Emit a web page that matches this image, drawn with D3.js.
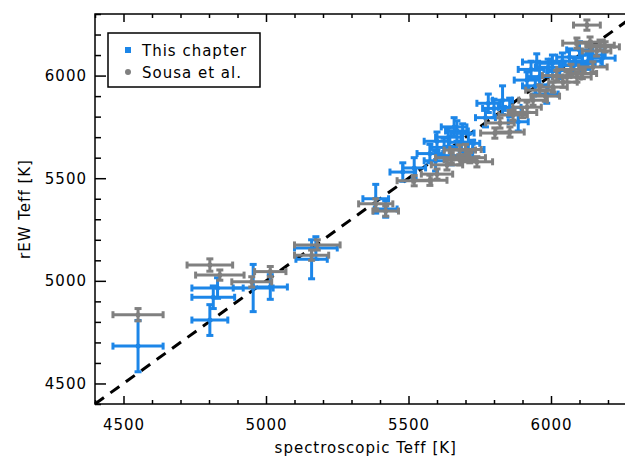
<!DOCTYPE html>
<html>
<head>
<meta charset="utf-8">
<script src="https://cdn.jsdelivr.net/npm/d3@7"></script>
<style>
  body { margin: 0; background: #fff; }
  svg { display: block; }
  .tick text { font-family: "DejaVu Sans", sans-serif; font-size: 15px; letter-spacing: 1px; fill: #000; }
</style>
</head>
<body>
<div id="chart"></div>
<script>
// rEW Teff vs spectroscopic Teff

// this chapter: spectroscopic Teff, rEW Teff, errors
const chapterSpec = [4551, 4803, 4815, 4830, 4955, 5015, 5160, 5175, 5385, 5420,
    5480, 5520, 5575, 5595, 5625, 5640, 5670, 5685, 5710, 5725,
    5600, 5660, 5690, 5650,
    5770, 5780, 5830, 5855, 5885, 5800,
    5916, 5950, 5960, 5985, 6005, 6030, 6065, 6100, 6110, 6145, 6180,
    5930, 5990, 6040, 6080, 6130, 5945];
const chapterRew = [4682, 4809, 4920, 4965, 4965, 4970, 5105, 5160, 5400, 5350,
    5530, 5550, 5620, 5585, 5650, 5700, 5730, 5675, 5670, 5640,
    5680, 5750, 5720, 5610,
    5795, 5865, 5880, 5845, 5775, 5840,
    5978, 6066, 5995, 5910, 6060, 6025, 6090, 6125, 6060, 6100, 6085,
    6030, 6040, 6070, 6050, 6070, 5950];
const chapterSpecErr = [88, 63, 75, 90, 70, 60, 55, 75, 45, 40,
    45, 40, 45, 40, 45, 45, 40, 45, 40, 40,
    45, 45, 40, 45,
    35, 40, 35, 40, 35, 40,
    45, 50, 45, 40, 45, 45, 45, 45, 45, 45, 45,
    45, 45, 45, 45, 45, 45];
const chapterRewErr = [125, 75, 55, 50, 115, 60, 95, 55, 70, 40,
    45, 50, 45, 50, 45, 45, 50, 45, 45, 45,
    45, 45, 45, 45,
    45, 45, 70, 45, 45, 45,
    40, 40, 40, 45, 40, 40, 40, 40, 40, 40, 40,
    40, 40, 40, 40, 40, 40];

// Sousa et al.
const sousaSpec = [4551, 4803, 4838, 4950, 5015, 5160, 5180, 5385, 5420, 5520,
    5575, 5635, 5680, 5715, 5680, 5600, 5650, 5700, 5740,
    5803, 5821, 5856, 5867, 5900,
    5916, 5937, 5961, 6007, 6042, 6056, 6091, 6147, 6091, 6137, 6172, 6126,
    5980, 6020, 6070, 6110, 6160, 6190];
const sousaRew = [4835, 5077, 5028, 4995, 5045, 5125, 5175, 5375, 5340, 5488,
    5490, 5565, 5590, 5600, 5637, 5520, 5600, 5640, 5580,
    5720, 5769, 5725, 5808, 5820,
    5846, 5880, 5929, 5944, 5968, 5993, 5993, 6042, 6158, 6163, 6148, 6246,
    5900, 6000, 6030, 6010, 6120, 6140];
const sousaSpecErr = [88, 80, 85, 70, 55, 60, 80, 60, 45, 60,
    60, 55, 55, 55, 55, 55, 55, 55, 55,
    50, 50, 50, 50, 50,
    50, 50, 50, 50, 50, 50, 50, 50, 50, 50, 50, 47,
    50, 50, 50, 50, 50, 50];
const sousaRewErr = [30, 30, 25, 25, 25, 25, 25, 25, 25, 25,
    25, 25, 25, 25, 25, 25, 25, 25, 25,
    25, 25, 25, 25, 25,
    25, 25, 25, 25, 25, 25, 25, 25, 25, 25, 25, 25,
    25, 25, 25, 25, 25, 25];

const axisRange = [4400, 6300];
const majorTicks = [4500, 5000, 5500, 6000];
const minorTicks = d3.range(4400, 6301, 100).filter(d => !majorTicks.includes(d));

const width = 625, height = 456;
const plot = { left: 95, top: 14, right: 636.5, bottom: 404 };
const blue = '#1c86e8', gray = '#808080';
const font = '"DejaVu Sans", sans-serif';

const svg = d3.select('#chart').append('svg')
    .attr('width', width)
    .attr('height', height);

const x = d3.scaleLinear().domain(axisRange).range([plot.left, plot.right]);
const y = d3.scaleLinear().domain(axisRange).range([plot.bottom, plot.top]);

// one-to-one line (behind the points)
svg.append('line')
    .attr('x1', x(axisRange[0])).attr('y1', y(axisRange[0]))
    .attr('x2', x(axisRange[1])).attr('y2', y(axisRange[1]))
    .attr('stroke', '#000')
    .attr('stroke-width', 3)
    .attr('stroke-dasharray', '11,8');

// error bars + points
function drawSeries(xs, ys, xe, ye, color) {
    const cap = 3.5;
    const g = svg.append('g')
        .attr('stroke', color)
        .attr('stroke-width', 3)
        .attr('fill', color);
    xs.forEach((xv, i) => {
        const cx = x(xv), cy = y(ys[i]);
        const x0 = x(xv - xe[i]), x1 = x(xv + xe[i]);
        const y0 = y(ys[i] - ye[i]), y1 = y(ys[i] + ye[i]);
        g.append('line').attr('x1', x0).attr('x2', x1).attr('y1', cy).attr('y2', cy);
        g.append('line').attr('x1', cx).attr('x2', cx).attr('y1', y0).attr('y2', y1);
        // caps
        g.append('line').attr('x1', x0).attr('x2', x0).attr('y1', cy - cap).attr('y2', cy + cap);
        g.append('line').attr('x1', x1).attr('x2', x1).attr('y1', cy - cap).attr('y2', cy + cap);
        g.append('line').attr('x1', cx - cap).attr('x2', cx + cap).attr('y1', y0).attr('y2', y0);
        g.append('line').attr('x1', cx - cap).attr('x2', cx + cap).attr('y1', y1).attr('y2', y1);
        g.append('circle').attr('cx', cx).attr('cy', cy).attr('r', 2.5).attr('stroke', 'none');
    });
}

drawSeries(chapterSpec, chapterRew, chapterSpecErr, chapterRewErr, blue);
drawSeries(sousaSpec, sousaRew, sousaSpecErr, sousaRewErr, gray);

// axes (ticks inward on all sides)
function styleAxis(g) {
    g.select('.domain').remove();
    g.selectAll('.tick line').attr('stroke', '#000').attr('stroke-width', 1.5);
}

svg.append('g').attr('transform', `translate(0,${plot.bottom})`)
    .call(d3.axisBottom(x).tickValues(majorTicks).tickSize(-8).tickPadding(15).tickFormat(d3.format('d')))
    .call(styleAxis);
svg.append('g').attr('transform', `translate(0,${plot.bottom})`)
    .call(d3.axisBottom(x).tickValues(minorTicks).tickSize(-4).tickFormat(''))
    .call(styleAxis);
svg.append('g').attr('transform', `translate(0,${plot.top})`)
    .call(d3.axisTop(x).tickValues(majorTicks).tickSize(-8).tickFormat(''))
    .call(styleAxis);
svg.append('g').attr('transform', `translate(0,${plot.top})`)
    .call(d3.axisTop(x).tickValues(minorTicks).tickSize(-4).tickFormat(''))
    .call(styleAxis);

svg.append('g').attr('transform', `translate(${plot.left},0)`)
    .call(d3.axisLeft(y).tickValues(majorTicks).tickSize(-11).tickPadding(8).tickFormat(d3.format('d')))
    .call(styleAxis);
svg.append('g').attr('transform', `translate(${plot.left},0)`)
    .call(d3.axisLeft(y).tickValues(minorTicks).tickSize(-6).tickFormat(''))
    .call(styleAxis);
svg.append('g').attr('transform', `translate(${plot.right},0)`)
    .call(d3.axisRight(y).tickValues(majorTicks).tickSize(-11).tickFormat(''))
    .call(styleAxis);
svg.append('g').attr('transform', `translate(${plot.right},0)`)
    .call(d3.axisRight(y).tickValues(minorTicks).tickSize(-6).tickFormat(''))
    .call(styleAxis);

// frame
svg.append('rect')
    .attr('x', plot.left).attr('y', plot.top)
    .attr('width', plot.right - plot.left).attr('height', plot.bottom - plot.top)
    .attr('fill', 'none')
    .attr('stroke', '#000')
    .attr('stroke-width', 1.5);

// axis titles
svg.append('text')
    .attr('x', (plot.left + plot.right) / 2)
    .attr('y', 453)
    .attr('text-anchor', 'middle')
    .attr('font-family', font)
    .attr('font-size', '15px')
    .attr('letter-spacing', '1px')
    .text('spectroscopic Teff [K]');

svg.append('text')
    .attr('transform', `translate(30,${(plot.top + plot.bottom) / 2}) rotate(-90)`)
    .attr('text-anchor', 'middle')
    .attr('font-family', font)
    .attr('font-size', '15px')
    .attr('letter-spacing', '1px')
    .text('rEW Teff [K]');

// legend
const legend = svg.append('g');
legend.append('rect')
    .attr('x', 108).attr('y', 33)
    .attr('width', 152).attr('height', 54)
    .attr('fill', '#fff')
    .attr('stroke', '#000')
    .attr('stroke-width', 1.5);
legend.append('rect')
    .attr('x', 125).attr('y', 47).attr('width', 6).attr('height', 6)
    .attr('fill', blue);
legend.append('circle')
    .attr('cx', 128).attr('cy', 72).attr('r', 3)
    .attr('fill', gray);
legend.append('text')
    .attr('x', 142).attr('y', 56)
    .attr('font-family', font).attr('font-size', '15px').attr('letter-spacing', '1px')
    .text('This chapter');
legend.append('text')
    .attr('x', 142).attr('y', 78)
    .attr('font-family', font).attr('font-size', '15px').attr('letter-spacing', '1px')
    .text('Sousa et al.');
</script>
</body>
</html>
